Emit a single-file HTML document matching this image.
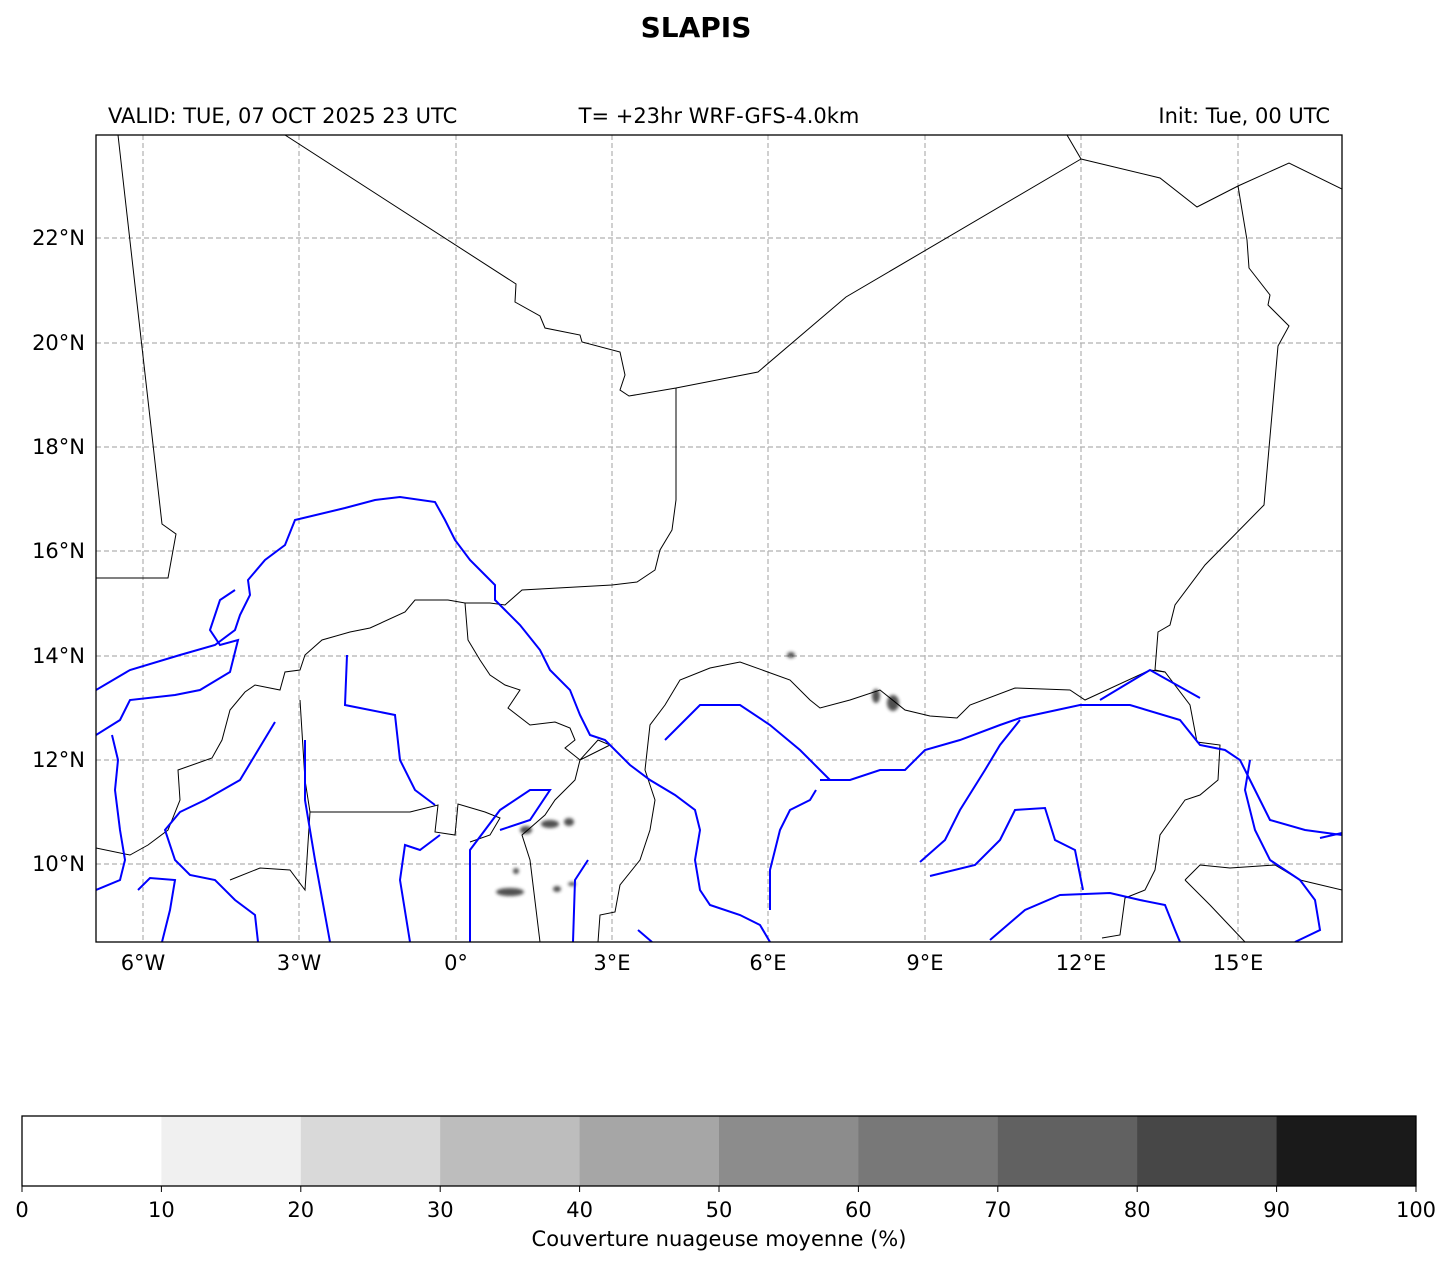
<!DOCTYPE html>
<html><head><meta charset="utf-8"><style>
html,body{margin:0;padding:0;background:#fff;}
svg{display:block;font-family:"DejaVu Sans","Liberation Sans",sans-serif;}
</style></head><body>
<svg width="1451" height="1264" viewBox="0 0 1451 1264" xmlns="http://www.w3.org/2000/svg">
<rect width="1451" height="1264" fill="#fff"/>
<text x="696" y="37" font-size="28" font-weight="bold" text-anchor="middle">SLAPIS</text>
<text x="108" y="123" font-size="21">VALID: TUE, 07 OCT 2025 23 UTC</text>
<text x="719" y="123" font-size="21" text-anchor="middle">T= +23hr WRF-GFS-4.0km</text>
<text x="1330" y="123" font-size="21" text-anchor="end">Init: Tue, 00 UTC</text>
<defs><clipPath id="c"><rect x="96" y="135" width="1246" height="807"/></clipPath>
<filter id="b"><feGaussianBlur stdDeviation="1.5"/></filter></defs>
<g clip-path="url(#c)">
<g stroke="#b0b0b0" stroke-width="1.2" stroke-dasharray="5,3">
<line x1="143" y1="135" x2="143" y2="942"/><line x1="299" y1="135" x2="299" y2="942"/><line x1="456" y1="135" x2="456" y2="942"/><line x1="612" y1="135" x2="612" y2="942"/><line x1="768" y1="135" x2="768" y2="942"/><line x1="925" y1="135" x2="925" y2="942"/><line x1="1081" y1="135" x2="1081" y2="942"/><line x1="1238" y1="135" x2="1238" y2="942"/>
<line x1="96" y1="238" x2="1342" y2="238"/><line x1="96" y1="343" x2="1342" y2="343"/><line x1="96" y1="447" x2="1342" y2="447"/><line x1="96" y1="551" x2="1342" y2="551"/><line x1="96" y1="656" x2="1342" y2="656"/><line x1="96" y1="760" x2="1342" y2="760"/><line x1="96" y1="864" x2="1342" y2="864"/>
</g>
<g fill="#333" opacity="0.85" filter="url(#b)">
<ellipse cx="526" cy="830" rx="6" ry="4"/><ellipse cx="550" cy="824" rx="9" ry="4"/><ellipse cx="569" cy="822" rx="5" ry="4"/>
<ellipse cx="510" cy="892" rx="14" ry="4"/><ellipse cx="516" cy="871" rx="3" ry="3"/><ellipse cx="557" cy="889" rx="4" ry="3"/><ellipse cx="572" cy="884" rx="4" ry="2"/>
<ellipse cx="791" cy="655" rx="4" ry="3"/><ellipse cx="876" cy="696" rx="4" ry="7"/><ellipse cx="893" cy="703" rx="6" ry="8"/>
</g>
<g fill="none" stroke="#000" stroke-width="1">
<polyline points="118,135 162,524 176,534 168,578 96,578"/>
<polyline points="285,135 516,284 515,302 540,316 545,328 580,335 582,342 620,352 625,375 620,390 629,396 676,388 758,372 846,297 1081,159 1067,135"/>
<polyline points="1081,159 1160,178 1197,207 1238,186 1289,163 1342,189"/>
<polyline points="1238,186 1247,240 1249,268 1270,295 1268,305 1289,326 1278,346 1264,505 1205,565 1175,605 1170,625 1158,632 1155,670 1165,672 1190,705 1197,742 1220,745 1218,780 1200,795 1185,800 1160,835 1155,870 1145,890 1125,898 1120,935 1102,938"/>
<polyline points="676,388 676,500 672,530 660,550 655,570 637,582 612,585 522,590 505,605 490,603 465,603 448,600 415,600 405,612 370,628 350,632 322,640 305,655 300,670 285,672 280,690 255,685 245,692 230,710 222,740 212,758 178,770 180,800 168,830 148,845 130,855 96,848"/>
<polyline points="1165,672 1150,670 1085,700 1070,690 1015,688 970,705 957,718 930,716 905,710 880,690 850,700 820,708 810,700 790,680 740,662 710,668 680,680 665,705 650,725 645,770 655,800 650,830 640,860 620,885 615,912 600,915 598,942"/>
<polyline points="465,603 468,640 480,660 490,675 505,685 520,690 508,708 530,725 555,722 570,728 575,740 565,748 580,760 598,740 610,745 580,760 575,780 555,800 545,815 522,835 530,860 540,942"/>
<polyline points="310,812 410,812 438,805 435,832 455,835 458,804 485,812 500,818 490,835 470,842"/>
<polyline points="230,880 260,868 290,870 305,890 310,812 305,780 300,700"/>
<polyline points="1185,880 1200,865 1230,868 1275,865 1300,880 1342,890"/>
<polyline points="1185,880 1210,905 1245,942"/>
</g>
<g fill="none" stroke="#0000ff" stroke-width="2">
<polyline points="96,690 130,670 180,655 215,645 235,630 240,615 250,595 248,580 265,560 285,545 295,520 345,508 375,500 400,497 435,502 445,520 455,540 470,560 485,575 495,585 495,600 505,610 520,625 540,650 550,670 570,690 580,715 590,735 605,740 630,765 650,780 675,795 695,810 700,830 695,860 700,890 710,905 740,915 760,925 770,942"/>
<polyline points="96,735 120,720 130,700 175,695 200,690 230,672 238,640 220,645 210,630 220,600 235,590"/>
<polyline points="96,890 120,880 125,860 120,830 115,790 118,760 112,735"/>
<polyline points="1342,835 1305,830 1270,820 1250,780 1240,760 1225,750 1200,745 1180,720 1130,705 1080,705 1020,718 1000,725 960,740 925,750 905,770 880,770 850,780 820,780"/>
<polyline points="665,740 700,705 740,705 770,725 800,750 830,780"/>
<polyline points="1100,700 1150,670 1200,698"/>
<polyline points="347,655 345,705 395,715 400,760 415,790 435,805"/>
<polyline points="305,740 305,800 315,860 330,942"/>
<polyline points="275,722 240,780 205,800 180,812 165,830 175,860 190,875 215,880 235,900 255,915 258,942"/>
<polyline points="138,890 150,878 175,880 170,910 162,942"/>
<polyline points="470,942 470,850 500,810 530,790 550,790 530,820 500,830"/>
<polyline points="588,860 575,880 573,942"/>
<polyline points="440,835 420,850 405,845 400,880 410,942"/>
<polyline points="816,790 810,800 790,810 780,830 770,870 770,910"/>
<polyline points="920,862 945,840 960,810 985,770 1000,745 1020,720"/>
<polyline points="930,876 975,865 1000,840 1015,810 1045,808 1055,840 1075,850 1083,890"/>
<polyline points="990,940 1025,910 1060,895 1110,893 1140,900 1165,905 1175,930 1180,942"/>
<polyline points="1295,942 1320,930 1315,900 1300,880 1270,860 1255,830 1245,790 1250,760"/>
<polyline points="638,930 652,942"/>
<polyline points="1342,833 1320,838"/>
</g>
</g>
<rect x="96" y="135" width="1246" height="807" fill="none" stroke="#000" stroke-width="1.3"/>
<g font-size="21" text-anchor="middle">
<text x="143" y="970">6°W</text><text x="299" y="970">3°W</text><text x="456" y="970">0°</text><text x="612" y="970">3°E</text><text x="768" y="970">6°E</text><text x="925" y="970">9°E</text><text x="1081" y="970">12°E</text><text x="1238" y="970">15°E</text>
</g>
<g font-size="21" text-anchor="end">
<text x="85" y="245">22°N</text><text x="85" y="350">20°N</text><text x="85" y="454">18°N</text><text x="85" y="558">16°N</text><text x="85" y="663">14°N</text><text x="85" y="767">12°N</text><text x="85" y="871">10°N</text>
</g>
<g>
<rect x="22" y="1116" width="140" height="70" fill="#ffffff"/>
<rect x="161.4" y="1116" width="140" height="70" fill="#f0f0f0"/>
<rect x="300.8" y="1116" width="140" height="70" fill="#d9d9d9"/>
<rect x="440.2" y="1116" width="140" height="70" fill="#bdbdbd"/>
<rect x="579.6" y="1116" width="140" height="70" fill="#a6a6a6"/>
<rect x="719" y="1116" width="140" height="70" fill="#8c8c8c"/>
<rect x="858.4" y="1116" width="140" height="70" fill="#787878"/>
<rect x="997.8" y="1116" width="140" height="70" fill="#616161"/>
<rect x="1137.2" y="1116" width="140" height="70" fill="#474747"/>
<rect x="1276.6" y="1116" width="139.4" height="70" fill="#1a1a1a"/>
<rect x="22" y="1116" width="1394" height="70" fill="none" stroke="#000" stroke-width="1.3"/>
</g>
<g stroke="#000" stroke-width="1">
<line x1="22" y1="1186" x2="22" y2="1192"/><line x1="161.4" y1="1186" x2="161.4" y2="1192"/><line x1="300.8" y1="1186" x2="300.8" y2="1192"/><line x1="440.2" y1="1186" x2="440.2" y2="1192"/><line x1="579.6" y1="1186" x2="579.6" y2="1192"/><line x1="719" y1="1186" x2="719" y2="1192"/><line x1="858.4" y1="1186" x2="858.4" y2="1192"/><line x1="997.8" y1="1186" x2="997.8" y2="1192"/><line x1="1137.2" y1="1186" x2="1137.2" y2="1192"/><line x1="1276.6" y1="1186" x2="1276.6" y2="1192"/><line x1="1416" y1="1186" x2="1416" y2="1192"/>
</g>
<g font-size="21" text-anchor="middle">
<text x="22" y="1217">0</text><text x="161.4" y="1217">10</text><text x="300.8" y="1217">20</text><text x="440.2" y="1217">30</text><text x="579.6" y="1217">40</text><text x="719" y="1217">50</text><text x="858.4" y="1217">60</text><text x="997.8" y="1217">70</text><text x="1137.2" y="1217">80</text><text x="1276.6" y="1217">90</text><text x="1416" y="1217">100</text>
<text x="719" y="1246">Couverture nuageuse moyenne (%)</text>
</g>
</svg>
</body></html>
